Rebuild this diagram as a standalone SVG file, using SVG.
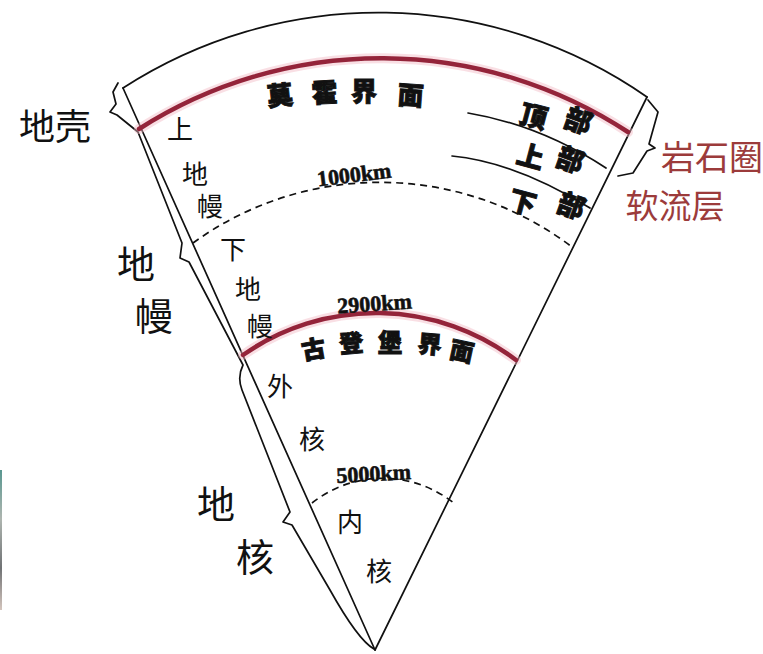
<svg xmlns="http://www.w3.org/2000/svg" width="763" height="654" viewBox="0 0 763 654">
  <style>
    .ln { fill: none; stroke: #111; stroke-width: 1.7; stroke-linejoin: round; stroke-linecap: round; }
    .dash { fill: none; stroke: #111; stroke-width: 1.7; stroke-dasharray: 7 5; }
    .red { fill: none; stroke: #94243a; stroke-width: 4.5; stroke-linecap: round; }
    .halo { fill: none; stroke: #f2b8c4; stroke-width: 10; stroke-opacity: 0.45; stroke-linecap: round; }
    .lbl { font-family: "Noto Sans CJK SC", "Noto Sans", sans-serif; font-weight: 400; fill: #111; text-anchor: middle; }
    .bold { font-family: "Noto Sans CJK SC", "Noto Sans", sans-serif; font-weight: 900; fill: #111; stroke: #111; stroke-width: 0.9; text-anchor: middle; }
    .km { font-family: "Liberation Serif", serif; font-weight: bold; fill: #111; stroke: #111; stroke-width: 0.6; text-anchor: middle; font-size: 22px; }
    .redlbl { font-family: "Noto Sans CJK SC", "Noto Sans", sans-serif; font-weight: 400; fill: #9c3b3b; text-anchor: middle; }
  </style>
  <defs>
    <linearGradient id="edgeStrip" x1="0" y1="0" x2="0" y2="1">
      <stop offset="0" stop-color="#2f7d74"/>
      <stop offset="0.35" stop-color="#9aa39c"/>
      <stop offset="0.7" stop-color="#4c4f52"/>
      <stop offset="1" stop-color="#c9b7ad"/>
    </linearGradient>
  </defs>

  <rect width="763" height="654" fill="#ffffff"/>
  <rect x="0" y="470" width="2" height="140" fill="url(#edgeStrip)" opacity="0.8"/>

  <!-- wedge outline, boundaries and braces -->
  <g id="connectors">
    <!-- outer surface arc -->
    <path class="ln" d="M123,88 A470,470 0 0 1 647,97"/>
    <!-- sector edges -->
    <path class="ln" d="M123,88 L375,650"/>
    <path class="ln" d="M647,97 L375,650"/>
    <!-- left brace line: crust / mantle / core -->
    <path class="ln" d="M118,83 L113,92 L116,104 L110,112 L117,115 L138,132 L182,243 L180,258 L189,262 L243,365 Q237,377 242,390 L290,512 L283,522 L292,525 L330,590 Q358,640 374,649"/>
    <!-- right brace: lithosphere -->
    <path class="ln" d="M648,100 L658,112 L649,144 L655,148 L647,151 L633,173 L618,176"/>
    <!-- upper mantle sub-layer dividers -->
    <path class="ln" d="M468,113 Q540,125 606,168"/>
    <path class="ln" d="M452,156 Q515,162 590,208"/>
    <!-- 1000 km and 5000 km dashed boundaries -->
    <path class="dash" d="M193,243 A318,318 0 0 1 572,247"/>
    <path class="dash" d="M312,503 A114,114 0 0 1 455,504"/>
    <!-- Moho and Gutenberg discontinuities -->
    <path class="halo" d="M139,129 A450,450 0 0 1 628,132"/>
    <path class="red" d="M139,129 A450,450 0 0 1 628,132"/>
    <path class="halo" d="M243,355 A232,232 0 0 1 516,360"/>
    <path class="red" d="M243,355 A232,232 0 0 1 516,360"/>
  </g>

  <g id="moho-label" font-size="26">
    <text class="bold" x="281" y="105" transform="rotate(-6 281 105)">莫</text>
    <text class="bold" x="325" y="102" transform="rotate(-3 325 102)">霍</text>
    <text class="bold" x="364" y="101">界</text>
    <text class="bold" x="410" y="105" transform="rotate(4 410 105)">面</text>
  </g>

  <g id="upper-mantle-parts" font-size="27">
    <text class="bold" x="531" y="126" transform="rotate(15 531 126)">顶</text>
    <text class="bold" x="575" y="130" transform="rotate(20 575 130)">部</text>
    <text class="bold" x="528" y="166" transform="rotate(15 528 166)">上</text>
    <text class="bold" x="567" y="169" transform="rotate(20 567 169)">部</text>
    <text class="bold" x="520" y="212" transform="rotate(15 520 212)">下</text>
    <text class="bold" x="568" y="215" transform="rotate(20 568 215)">部</text>
  </g>

  <g id="depth-1000">
    <text class="km" x="355" y="182" transform="rotate(-7 355 182)">1000km</text>
  </g>
  <g id="depth-2900">
    <text class="km" x="375" y="311" transform="rotate(-4 375 311)">2900km</text>
  </g>
  <g id="depth-5000">
    <text class="km" x="374" y="481" transform="rotate(-3 374 481)">5000km</text>
  </g>

  <g id="gutenberg-label" font-size="24">
    <text class="bold" x="315" y="358" transform="rotate(-10 315 358)">古</text>
    <text class="bold" x="352" y="352" transform="rotate(-5 352 352)">登</text>
    <text class="bold" x="390" y="351">堡</text>
    <text class="bold" x="429" y="353" transform="rotate(5 429 353)">界</text>
    <text class="bold" x="460" y="360" transform="rotate(12 460 360)">面</text>
  </g>

  <g id="layer-labels" font-size="26">
    <text class="lbl" x="180" y="139">上</text>
    <text class="lbl" x="195" y="184">地</text>
    <text class="lbl" x="210" y="216">幔</text>
    <text class="lbl" x="233" y="259">下</text>
    <text class="lbl" x="248" y="299">地</text>
    <text class="lbl" x="260" y="336">幔</text>
    <text class="lbl" x="280" y="396">外</text>
    <text class="lbl" x="312" y="449">核</text>
    <text class="lbl" x="350" y="532">内</text>
    <text class="lbl" x="379" y="581">核</text>
  </g>

  <g id="crust" font-size="36">
    <text class="lbl" x="55" y="140">地壳</text>
  </g>
  <g id="mantle" font-size="38">
    <text class="lbl" x="136" y="278">地</text>
    <text class="lbl" x="154" y="330">幔</text>
  </g>
  <g id="core" font-size="38">
    <text class="lbl" x="216" y="518">地</text>
    <text class="lbl" x="255" y="571">核</text>
  </g>

  <g id="lithosphere" font-size="34">
    <text class="redlbl" x="712" y="170">岩石圈</text>
  </g>
  <g id="asthenosphere" font-size="33">
    <text class="redlbl" x="675" y="218">软流层</text>
  </g>
</svg>
